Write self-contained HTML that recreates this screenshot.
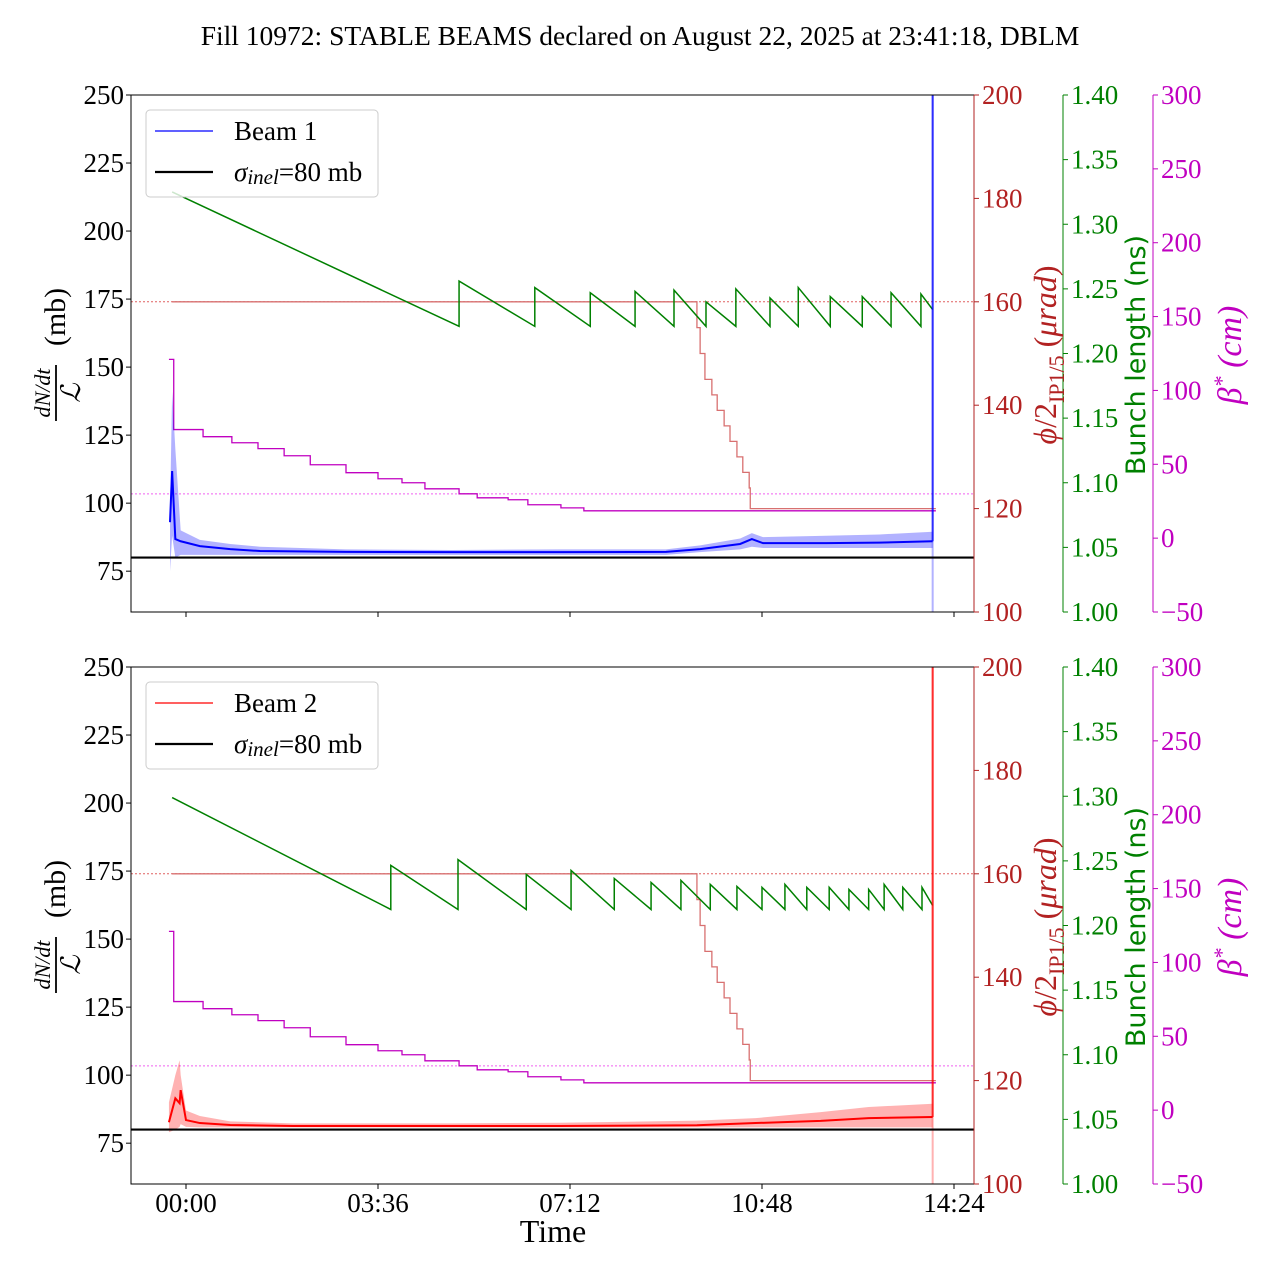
<!DOCTYPE html>
<html><head><meta charset="utf-8">
<style>
html,body{margin:0;padding:0;background:#fff;}
svg{display:block;font-family:"Liberation Serif","DejaVu Serif",serif;}
</style></head>
<body>
<svg id="chart" width="1280" height="1280" viewBox="0 0 1280 1280" xmlns="http://www.w3.org/2000/svg">
<text x="640" y="45" font-size="27.5" text-anchor="middle">Fill 10972: STABLE BEAMS declared on August 22, 2025 at 23:41:18, DBLM</text>
<text x="553" y="1242" font-size="32" text-anchor="middle">Time</text>
</svg>
<script>
// ===== data (time in hours from 00:00) =====
const xTickHours = [0, 3.6, 7.2, 10.8, 14.4];
const xTickLabels = ["00:00", "03:36", "07:12", "10:48", "14:24"];
const leftTicks = [75, 100, 125, 150, 175, 200, 225, 250];
const redTicks = [100, 120, 140, 160, 180, 200];
const greenTicks = [1.00, 1.05, 1.10, 1.15, 1.20, 1.25, 1.30, 1.35, 1.40];
const magTicks = [-50, 0, 50, 100, 150, 200, 250, 300];
const sigmaInel = 80;
const endTime = 14.0;

// Beam 1 dN/dt / L
const b1Time = [-0.3, -0.26, -0.2, -0.1, 0.26, 0.83, 1.39, 3, 5, 7, 9, 9.64, 10.39, 10.61, 10.82, 12, 13, 14.0];
const b1Mean = [93, 111.8, 86.8, 86, 84.2, 83.1, 82.4, 82.1, 82.0, 82.0, 82.1, 83.1, 85, 86.8, 85.3, 85.3, 85.5, 86];
const b1High = [97, 141, 120, 90, 86.5, 85, 84, 83, 82.8, 83, 83, 84.5, 87, 89, 87.5, 88, 88.5, 89.5];
const b1Low = [75, 88, 80, 81, 81, 81, 81, 81, 81, 81, 81, 82, 83, 84, 83.5, 83.5, 83.5, 83.5];
// Beam 2 dN/dt / L
const b2Time = [-0.32, -0.2, -0.12, -0.1, 0.0, 0.26, 0.83, 2, 5, 7, 9.58, 10.68, 11.9, 12.8, 14.0];
const b2Mean = [82.7, 91.5, 89.7, 94.5, 83.5, 82.4, 81.7, 81.3, 81.3, 81.3, 81.6, 82.4, 83.2, 84.2, 84.6];
const b2High = [90, 100, 105.5, 100, 87, 85, 83, 82.3, 82.3, 82.5, 83.3, 84.2, 86.4, 88.3, 89.5];
const b2Low = [79, 80, 81, 82, 81, 80.8, 80.8, 80.8, 80.8, 80.8, 80.8, 80.8, 80.8, 80.8, 80.8];

// Bunch length sawtooth (refills)
const bl1Times = [-0.26, 5.12, 6.54, 7.58, 8.42, 9.15, 9.75, 10.31, 10.95, 11.48, 12.08, 12.68, 13.22, 13.78];
const bl1Peaks = [1.325, 1.256, 1.251, 1.247, 1.248, 1.249, 1.240, 1.250, 1.243, 1.251, 1.244, 1.244, 1.247, 1.246];
const bl1Troughs = [1.221, 1.221, 1.221, 1.221, 1.221, 1.221, 1.221, 1.221, 1.221, 1.221, 1.221, 1.221, 1.221, 1.234];
const bl2Times = [-0.26, 3.84, 5.10, 6.38, 7.22, 8.03, 8.72, 9.28, 9.83, 10.33, 10.80, 11.23, 11.64, 12.06, 12.43, 12.80, 13.09, 13.44, 13.80];
const bl2Peaks = [1.299, 1.2465, 1.251, 1.2395, 1.2426, 1.2364, 1.2333, 1.2349, 1.2318, 1.2302, 1.2295, 1.2318, 1.2295, 1.2295, 1.2279, 1.2279, 1.2318, 1.2295, 1.2295];
const bl2Troughs = [1.2124, 1.2124, 1.2124, 1.2124, 1.2124, 1.2124, 1.2124, 1.2124, 1.2124, 1.2124, 1.2124, 1.2124, 1.2124, 1.2124, 1.2124, 1.2124, 1.2124, 1.2124, 1.2155];
const blEnd = 14.0;

// beta* steps (cm)
const betaTimes = [-0.32, -0.23, 0.32, 0.86, 1.35, 1.84, 2.33, 3.0, 3.6, 4.05, 4.48, 5.12, 5.46, 6.04, 6.41, 7.03, 7.46];
const betaValues = [121, 73.5, 68.7, 64.6, 60.6, 55.8, 49.7, 44.3, 40.2, 37.5, 33.4, 30, 27.3, 26, 22.6, 20.5, 18.5];
const betaRef = 30;
// crossing angle steps (urad)
const xingTimes = [-0.26, 9.58, 9.64, 9.73, 9.86, 9.96, 10.09, 10.2, 10.33, 10.44, 10.56, 10.58];
const xingValues = [160, 155, 150, 145, 142, 139, 136, 133, 130, 127, 124, 120];
const xingRef = 160;
const stepEnd = 14.06;

// ===== drawing =====
const NS = "http://www.w3.org/2000/svg";
const svg = document.getElementById("chart");
const PL = 131, PR = 974, PH = 517;
const RED = "#b22222", GRN = "#008000", MAG = "#c000c0";
const FS = 27;
function mk(tag, attrs, parent) {
  const e = document.createElementNS(NS, tag);
  for (const k in attrs) e.setAttribute(k, attrs[k]);
  (parent || svg).appendChild(e);
  return e;
}
const xS = t => 186 + t * 53.333;

function drawPanel(top, idx, beam) {
  const yL = v => top + (250 - v) * PH / 190;
  const yR = v => top + (200 - v) * PH / 100;
  const yG = v => top + (1.4 - v) * PH / 0.4;
  const yM = v => top + (300 - v) * PH / 350;
  const bot = top + PH;
  const g = mk("g", {});
  
  
  const cid = "clip" + idx;
  const cp = mk("clipPath", {id: cid}, g);
  mk("rect", {x: PL, y: top, width: PR - PL, height: PH}, cp);
  const plot = mk("g", {"clip-path": "url(#" + cid + ")"}, g);
  
  

  const r1 = mk("line", {x1: PL, x2: PR, y1: yR(xingRef), y2: yR(xingRef), stroke: "#e06060", "stroke-width": 1, "stroke-dasharray": "2,2"}, plot);
  
  
  const r2 = mk("line", {x1: PL, x2: PR, y1: yM(betaRef), y2: yM(betaRef), stroke: "#f060f0", "stroke-width": 1, "stroke-dasharray": "2,2"}, plot);
  
  

  let d = "";
  for (let i = 0; i < xingTimes.length; i++) {
    const x0 = xS(xingTimes[i]), x1 = xS(i + 1 < xingTimes.length ? xingTimes[i + 1] : stepEnd);
    d += (i === 0 ? "M" : "L") + x0 + "," + yR(xingValues[i]) + "L" + x1 + "," + yR(xingValues[i]);
  }
  const xp = mk("path", {d: d, fill: "none", stroke: "#d87070", "stroke-width": 1.3}, plot);
  
  

  d = "";
  for (let i = 0; i < betaTimes.length; i++) {
    const x0 = xS(betaTimes[i]), x1 = xS(i + 1 < betaTimes.length ? betaTimes[i + 1] : stepEnd);
    d += (i === 0 ? "M" : "L") + x0 + "," + yM(betaValues[i]) + "L" + x1 + "," + yM(betaValues[i]);
  }
  const bp = mk("path", {d: d, fill: "none", stroke: MAG, "stroke-width": 1.3}, plot);
  
  

  const bt = idx === 1 ? bl1Times : bl2Times, bpk = idx === 1 ? bl1Peaks : bl2Peaks, btr = idx === 1 ? bl1Troughs : bl2Troughs;
  d = "";
  for (let i = 0; i < bt.length; i++) {
    const x0 = xS(bt[i]), x1 = xS(i + 1 < bt.length ? bt[i + 1] : blEnd);
    d += (i === 0 ? "M" : "L") + x0 + "," + yG(bpk[i]) + "L" + x1 + "," + yG(btr[i]);
  }
  const gp = mk("path", {d: d, fill: "none", stroke: GRN, "stroke-width": 1.5}, plot);
  
  

  const T = idx === 1 ? b1Time : b2Time, M = idx === 1 ? b1Mean : b2Mean, Hi = idx === 1 ? b1High : b2High, Lo = idx === 1 ? b1Low : b2Low;
  const col = idx === 1 ? "#0000ff" : "#ff0000";
  let pb = "";
  for (let i = 0; i < T.length; i++) pb += (i === 0 ? "M" : "L") + xS(T[i]) + "," + yL(Hi[i]);
  for (let i = T.length - 1; i >= 0; i--) pb += "L" + xS(T[i]) + "," + yL(Lo[i]);
  const band = mk("path", {d: pb + "Z", fill: col, "fill-opacity": 0.3, stroke: "none"}, plot);
  
  
  let pm = "";
  for (let i = 0; i < T.length; i++) pm += (i === 0 ? "M" : "L") + xS(T[i]) + "," + yL(M[i]);
  const ml = mk("path", {d: pm, fill: "none", stroke: col, "stroke-width": 2}, plot);
  
  
  const ve = mk("line", {x1: xS(endTime), x2: xS(endTime), y1: top, y2: bot, stroke: col, "stroke-opacity": 0.3, "stroke-width": 2}, plot);
  
  
  const vs = mk("line", {x1: xS(endTime), x2: xS(endTime), y1: top, y2: yL(M[M.length - 1]), stroke: col, "stroke-opacity": 0.75, "stroke-width": 2}, plot);
  
  

  const sl = mk("line", {x1: PL, x2: PR, y1: yL(sigmaInel), y2: yL(sigmaInel), stroke: "#000", "stroke-width": 2.2}, plot);
  
  

  const fr = mk("rect", {x: PL, y: top, width: PR - PL, height: PH, fill: "none", stroke: "#000", "stroke-width": 1}, g);
  
  

  leftTicks.forEach(v => {
    mk("line", {x1: PL - 5, x2: PL, y1: yL(v), y2: yL(v), stroke: "#000"}, g);
    const t = mk("text", {x: PL - 7, y: yL(v) + 9, "font-size": FS, "text-anchor": "end"}, g);
    t.textContent = v;
    
    
  });
  xTickHours.forEach((h, i) => {
    mk("line", {x1: xS(h), x2: xS(h), y1: bot, y2: bot + 5, stroke: "#000"}, g);
    if (idx === 2) {
      const t = mk("text", {x: xS(h), y: bot + 28, "font-size": FS, "text-anchor": "middle"}, g);
      t.textContent = xTickLabels[i];
      
      
    }
  });
  function rightAxis(xp, ticks, sc, color, fmt, name) {
    const ax = mk("g", {});
    
    
    g.appendChild(ax);
    mk("line", {x1: xp, x2: xp, y1: top, y2: bot, stroke: color, "stroke-width": 1}, ax);
    ticks.forEach(v => {
      mk("line", {x1: xp, x2: xp + 5, y1: sc(v), y2: sc(v), stroke: color}, ax);
      const t = mk("text", {x: xp + 8, y: sc(v) + 9, "font-size": FS, fill: color}, ax);
      t.textContent = fmt(v);
      
      
    });
  }
  rightAxis(974, redTicks, yR, RED, v => v, 'crossing-angle-axis');
  rightAxis(1063, greenTicks, yG, GRN, v => v.toFixed(2), 'bunch-length-axis');
  rightAxis(1153, magTicks, yM, MAG, v => (v < 0 ? "\u2212" + (-v) : v), 'beta-star-axis');

  const cy = top + 260;
  const ly = mk("g", {transform: "translate(56," + cy + ") rotate(-90)"}, g);
  
  
  const num = mk("text", {x: -38, y: -6, "font-size": 22, "font-style": "italic", "text-anchor": "middle"}, ly);
  num.textContent = "dN/dt";
  mk("line", {x1: -66, x2: -10, y1: 0, y2: 0, stroke: "#000", "stroke-width": 1.8}, ly);
  const den = mk("text", {x: -38, y: 24, "font-size": 27, "font-style": "italic", "text-anchor": "middle"}, ly);
  den.textContent = "\u2112";
  const mb = mk("text", {x: 38, y: 9, "font-size": 30, "text-anchor": "middle"}, ly);
  mb.textContent = "(mb)";
  const rl = mk("text", {transform: "translate(1056," + cy + ") rotate(-90)", "font-size": 32, fill: RED, "text-anchor": "middle"}, g);
  
  
  rl.innerHTML = '<tspan font-style="italic">ϕ</tspan>/2<tspan font-size="22" dy="8">IP1/5</tspan><tspan dy="-8"> (</tspan><tspan font-style="italic">μrad</tspan>)';
  const gl = mk("text", {transform: "translate(1145," + cy + ") rotate(-90)", "font-size": 27, fill: GRN, "text-anchor": "middle", "font-family": "DejaVu Sans, Liberation Sans, sans-serif"}, g);
  gl.textContent = "Bunch length (ns)";
  
  
  const ml2 = mk("text", {transform: "translate(1241," + cy + ") rotate(-90)", "font-size": 34, fill: MAG, "text-anchor": "middle", "font-style": "italic"}, g);
  
  
  ml2.innerHTML = 'β<tspan font-size="22" dy="-12">*</tspan><tspan dy="12"> (cm)</tspan>';

  const lg = mk("g", {}, g);
  
  
  mk("rect", {x: 146, y: top + 15, width: 232, height: 87, rx: 4, fill: "#fff", "fill-opacity": 0.8, stroke: "#ccc"}, lg);
  mk("line", {x1: 155, x2: 213, y1: top + 36, y2: top + 36, stroke: col, "stroke-width": 1.2}, lg);
  const lt = mk("text", {x: 234, y: top + 45, "font-size": FS}, lg);
  lt.textContent = "Beam " + idx;
  
  
  mk("line", {x1: 155, x2: 213, y1: top + 77, y2: top + 77, stroke: "#000", "stroke-width": 2.2}, lg);
  const ls = mk("text", {x: 234, y: top + 86, "font-size": FS}, lg);
  ls.innerHTML = '<tspan font-style="italic">σ</tspan><tspan font-style="italic" font-size="21" dy="3">inel</tspan><tspan dy="-3">=80 mb</tspan>';
  
  
}
drawPanel(95, 1, 1);
drawPanel(667, 2, 2);
</script>
</body></html>
